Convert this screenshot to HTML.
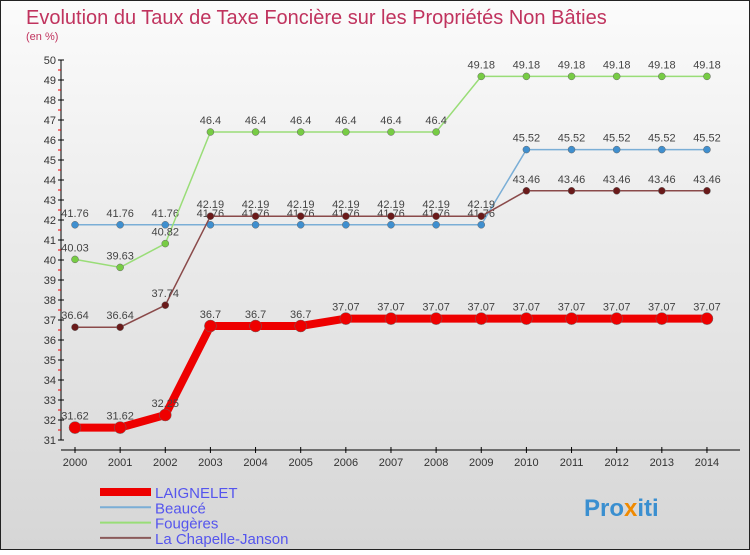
<!DOCTYPE html>
<html><head><meta charset="utf-8"><style>
body{margin:0;width:750px;height:550px;overflow:hidden;font-family:"Liberation Sans",sans-serif}
</style></head><body>
<svg width="750" height="550" xmlns="http://www.w3.org/2000/svg">
<defs><linearGradient id="bg" x1="0" y1="0" x2="0" y2="1"><stop offset="0" stop-color="#fbfbfb"/><stop offset="1" stop-color="#d6d6d6"/></linearGradient></defs>
<rect x="0.5" y="0.5" width="749" height="549" fill="url(#bg)" stroke="#222"/>
<text x="26" y="24" font-size="20" fill="#c0335e">Evolution du Taux de Taxe Foncière sur les Propriétés Non Bâties</text>
<text x="26" y="40" font-size="11" fill="#c0335e">(en %)</text>
<g id="axes"></g>
<g id="series"></g>
<g id="legend"></g>
<text x="584" y="516" font-size="24" font-weight="bold" fill="#3a8fd0">Pro<tspan fill="#f08a00">x</tspan>iti</text>
</svg>
<script>
const years=[2000,2001,2002,2003,2004,2005,2006,2007,2008,2009,2010,2011,2012,2013,2014];
const yTicks=[31,32,33,34,35,36,37,38,39,40,41,42,43,44,45,46,47,48,49,50];
const laignelet=[31.62,31.62,32.25,36.7,36.7,36.7,37.07,37.07,37.07,37.07,37.07,37.07,37.07,37.07,37.07];
const beauce=[41.76,41.76,41.76,41.76,41.76,41.76,41.76,41.76,41.76,41.76,45.52,45.52,45.52,45.52,45.52];
const fougeres=[40.03,39.63,40.82,46.4,46.4,46.4,46.4,46.4,46.4,49.18,49.18,49.18,49.18,49.18,49.18];
const chapelle=[36.64,36.64,37.74,42.19,42.19,42.19,42.19,42.19,42.19,42.19,43.46,43.46,43.46,43.46,43.46];
const NS="http://www.w3.org/2000/svg";
function X(i){return 75+i*45.14;}
function Y(v){return 440-(v-31)*20;}
function mk(t,a,p){const e=document.createElementNS(NS,t);for(const k in a)e.setAttribute(k,a[k]);if(p)p.appendChild(e);return e;}
const ax=document.getElementById('axes');
let yl=mk('line',{x1:61,y1:Y(50),x2:61,y2:Y(31),stroke:'#000'},ax);


let xl=mk('line',{x1:61,y1:450,x2:740,y2:450,stroke:'#000'},ax);


yTicks.forEach(v=>{
 mk('line',{x1:58,y1:Y(v),x2:64,y2:Y(v),stroke:'#000'},ax);
 if(v<50)mk('line',{x1:58,y1:Y(v+0.5),x2:61,y2:Y(v+0.5),stroke:'#e00'},ax);
 const t=mk('text',{x:56,y:Y(v)+4,'font-size':11,'text-anchor':'end',fill:'#333'},ax);
 t.textContent=v;
 
 
});
years.forEach((y,i)=>{
 mk('line',{x1:X(i),y1:447,x2:X(i),y2:453,stroke:'#000'},ax);
 const t=mk('text',{x:X(i),y:466,'font-size':11,'text-anchor':'middle',fill:'#333'},ax);
 t.textContent=y;
 
 
});
const sg=document.getElementById('series');
function draw(data,color,dot,w,r,name){
 const g=mk('g',{},sg);
 
 
 mk('polyline',{points:data.map((v,i)=>X(i)+','+Y(v)).join(' '),fill:'none',stroke:color,'stroke-width':w},g);
 data.forEach((v,i)=>{
  const c=mk('circle',{cx:X(i),cy:Y(v),r:r,fill:dot,stroke:'#666','stroke-width':0.5},g);
  
  
  const t=mk('text',{x:X(i),y:Y(v)-8,'font-size':11,'text-anchor':'middle',fill:'#444'},g);
  t.textContent=v;
 });
}
draw(beauce,'#7aaed6','#3f8fcf',1.5,3.5,'beauce-series');
draw(fougeres,'#99dd77','#77cc44',1.5,3.5,'fougeres-series');
draw(chapelle,'#8a4a4a','#6a1a1a',1.5,3.5,'chapelle-series');
draw(laignelet,'#ee0000','#ee0000',8,6,'laignelet-series');
const lg=document.getElementById('legend');
[['LAIGNELET','#ee0000',8],['Beaucé','#7aaed6',2],['Fougères','#99dd77',2],['La Chapelle-Janson','#8a5a5a',2]].forEach((d,i)=>{
 const y=492+i*15.3;
 const g=mk('g',{},lg);
 
 
 mk('line',{x1:100,y1:y,x2:151,y2:y,stroke:d[1],'stroke-width':d[2]},g);
 const t=mk('text',{x:155,y:y+6,'font-size':15,fill:'#5555ee'},g);
 t.textContent=d[0];
});
</script>
</body></html>
